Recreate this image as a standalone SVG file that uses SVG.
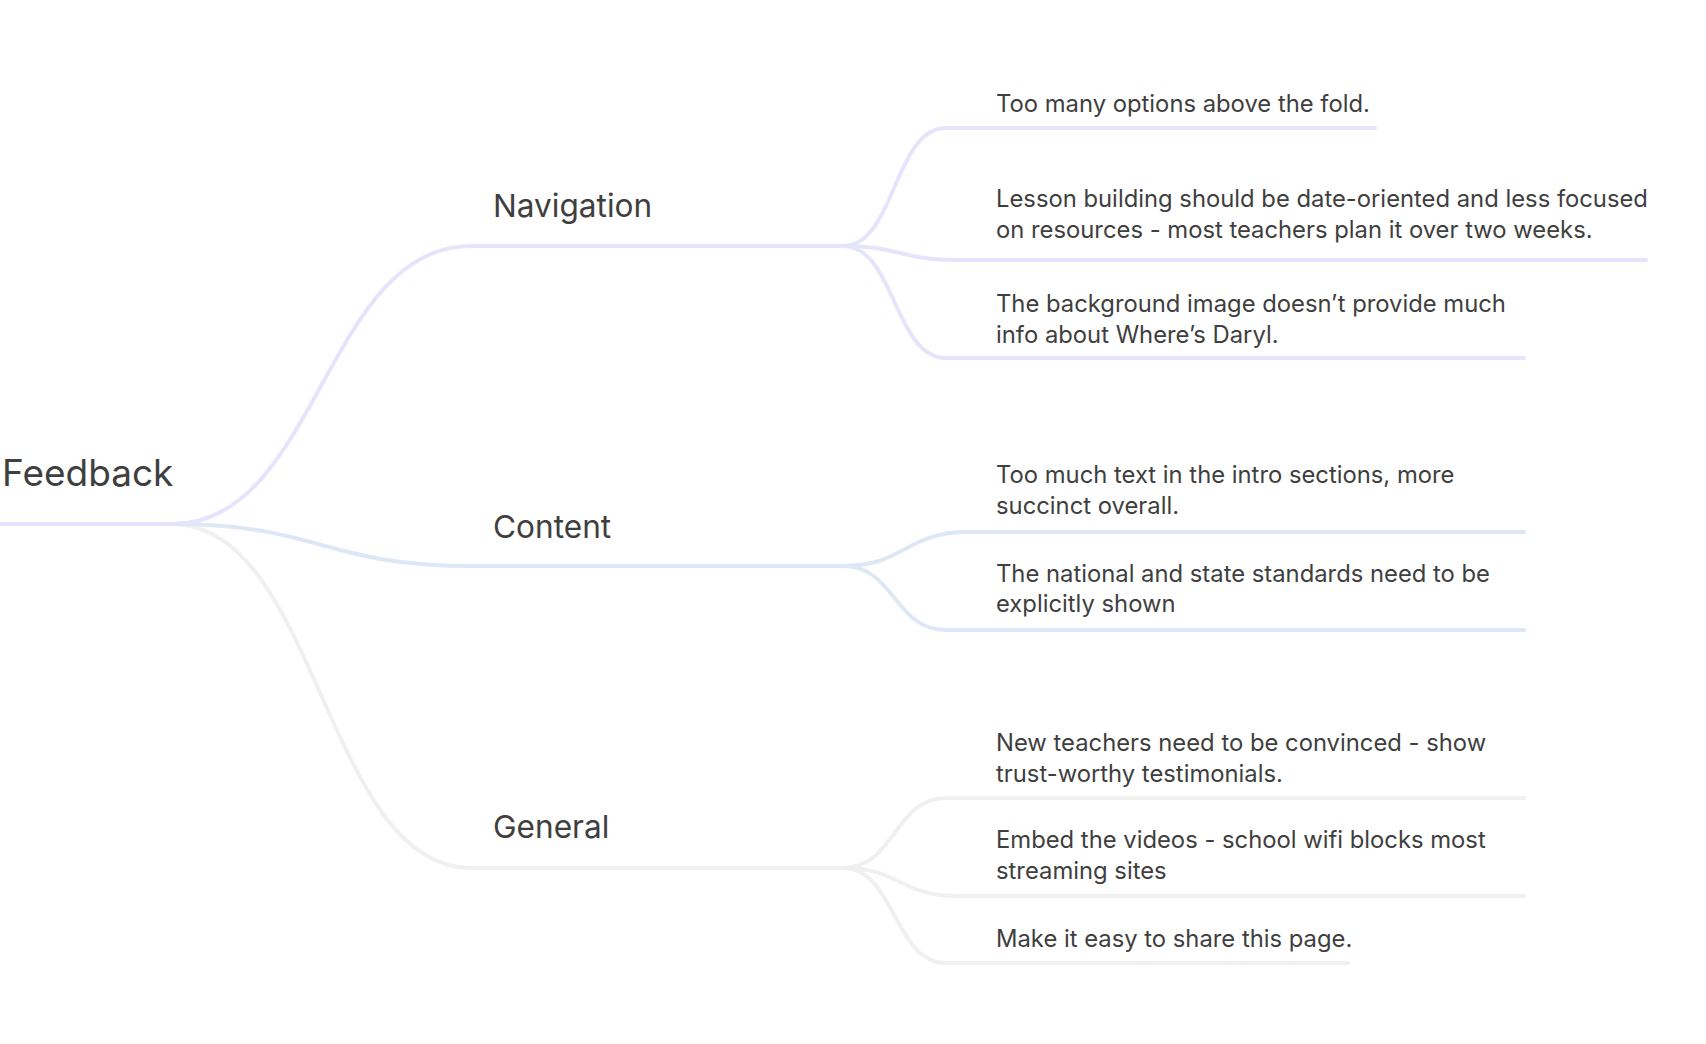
<svg xmlns="http://www.w3.org/2000/svg" width="1706" height="1044" viewBox="0 0 1706 1044">
<style>
.t{font-family:Inter,"Liberation Sans",Arial,sans-serif;fill:#3f3f3f}
.root{font-size:37px}
.mid{font-size:31.6px}
.leaf{font-size:23.8px}
.c{fill:none;stroke-width:4;stroke-linecap:round}
.nav{stroke:#E6E4FB}
.con{stroke:#DEE7F5}
.gen{stroke:#F0F0F0}
</style>
<rect width="1706" height="1044" fill="#ffffff"/>
<g id="connectors">
<path class="c nav" d="M0,524 L172,524"/>
<path class="c gen" d="M172,524 C318,524 325,868 471,868 L843,868"/>
<path class="c con" d="M172,524 C318,524 325,566 471,566 L843,566"/>
<path class="c nav" d="M172,524 C318,524 325,246 471,246 L843,246"/>
<path class="c nav" d="M843,246 C895,246 894,128 946,128 L1375,128"/>
<path class="c nav" d="M843,246 C900,246 900,260 957,260 L1646,260"/>
<path class="c nav" d="M843,246 C895,246 894,358 946,358 L1524,358"/>
<path class="c con" d="M843,566 C905,566 905,532 968,532 L1524,532"/>
<path class="c con" d="M843,566 C895,566 894,630 946,630 L1524,630"/>
<path class="c gen" d="M843,868 C895,868 894,798 946,798 L1524,798"/>
<path class="c gen" d="M843,868 C900,868 900,896 957,896 L1524,896"/>
<path class="c gen" d="M843,868 C895,868 894,963 946,963 L1348,963"/>
</g>
<g id="feedback"><text class="t root" x="2" y="486">Feedback</text></g>
<g id="navigation"><text class="t mid" x="493" y="217">Navigation</text></g>
<g id="content"><text class="t mid" x="493" y="538">Content</text></g>
<g id="general"><text class="t mid" x="493" y="838">General</text></g>
<g id="nav-1"><text class="t leaf" x="996" y="112">Too many options above the fold.</text></g>
<g id="nav-2"><text class="t leaf" x="996" y="207">Lesson building should be date-oriented and less focused</text><text class="t leaf" x="996" y="238">on resources - most teachers plan it over two weeks.</text></g>
<g id="nav-3"><text class="t leaf" x="996" y="312">The background image doesn’t provide much</text><text class="t leaf" x="996" y="343">info about Where’s Daryl.</text></g>
<g id="con-1"><text class="t leaf" x="996" y="483">Too much text in the intro sections, more</text><text class="t leaf" x="996" y="514">succinct overall.</text></g>
<g id="con-2"><text class="t leaf" x="996" y="582">The national and state standards need to be</text><text class="t leaf" x="996" y="612">explicitly shown</text></g>
<g id="gen-1"><text class="t leaf" x="996" y="751">New teachers need to be convinced - show</text><text class="t leaf" x="996" y="782">trust-worthy testimonials.</text></g>
<g id="gen-2"><text class="t leaf" x="996" y="848">Embed the videos - school wifi blocks most</text><text class="t leaf" x="996" y="879">streaming sites</text></g>
<g id="gen-3"><text class="t leaf" x="996" y="947">Make it easy to share this page.</text></g>
</svg>
